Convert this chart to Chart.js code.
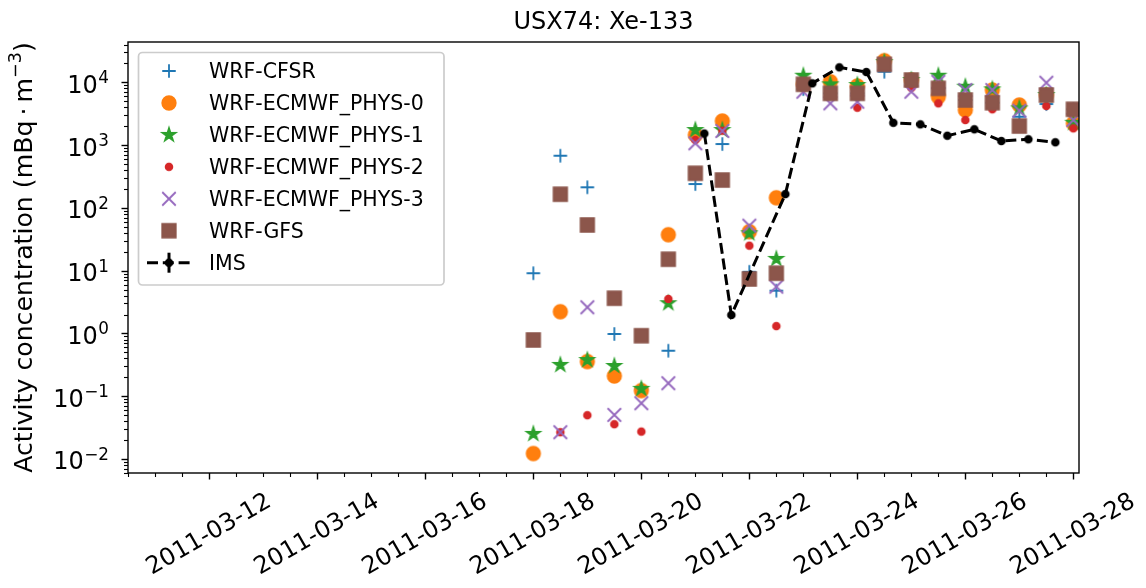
<!DOCTYPE html>
<html>
<head>
<meta charset="utf-8">
<script src="https://cdn.jsdelivr.net/npm/chart.js@4.4.1/dist/chart.umd.min.js"></script>
<style>
  html, body { margin: 0; padding: 0; background: #fff; }
</style>
</head>
<body>
<canvas id="chart" width="1146" height="588"></canvas>
<script>
// sampling times of the model runs (every 12 h)
const modelTimes = [
  '2011-03-18 00:00', '2011-03-18 12:00', '2011-03-19 00:00', '2011-03-19 12:00',
  '2011-03-20 00:00', '2011-03-20 12:00', '2011-03-21 00:00', '2011-03-21 12:00',
  '2011-03-22 00:00', '2011-03-22 12:00', '2011-03-23 00:00', '2011-03-23 12:00',
  '2011-03-24 00:00', '2011-03-24 12:00', '2011-03-25 00:00', '2011-03-25 12:00',
  '2011-03-26 00:00', '2011-03-26 12:00', '2011-03-27 00:00', '2011-03-27 12:00',
  '2011-03-28 00:00'
];
const wrfCfsr  = [9.1, 678, 213, 0.98, 0.13, 0.53, 240, 1040, 9.6, 4.8, 7800, 6680, 6680, 14750, 10880, 8020, 5230, 4730, 2830, 4510, 3720];
const ecmwf0   = [0.0122, 2.22, 0.356, 0.21, 0.123, 37.4, 1450, 2420, 41.8, 145, 9300, 10220, 8730, 22080, 10880, 5900, 3620, 7540, 4350, 6280, 2220];
const ecmwf1   = [0.0251, 0.315, 0.377, 0.303, 0.131, 3.03, 1740, 1740, 39.4, 15.4, 12740, 9290, 9060, 21000, 10880, 12740, 8510, 7740, 3855, 6280, 2270];
const ecmwf2   = [null, 0.0267, 0.0498, 0.0358, 0.0273, 3.54, 1206, 1700, 25.0, 1.31, 9300, 6680, 3940, 19360, 8200, 4630, 2510, 3720, 2015, 4200, 1850];
const ecmwf3   = [null, 0.0267, 2.61, 0.0504, 0.0774, 0.161, 1069, 1680, 52.1, 5.56, 7090, 4630, 4910, 19360, 7090, 10200, 7540, 7540, 3530, 9860, 2510];
const wrfGfs   = [0.787, 165, 53.4, 3.64, 0.92, 15.2, 356, 278, 7.38, 9.1, 9300, 6680, 6680, 19360, 10880, 8020, 5230, 4730, 2015, 6280, 3720];

// IMS measurements
const imsTimes = [
  '2011-03-21 04:00', '2011-03-21 16:00', '2011-03-22 16:00', '2011-03-23 04:00',
  '2011-03-23 16:00', '2011-03-24 04:00', '2011-03-24 16:00', '2011-03-25 04:00',
  '2011-03-25 16:00', '2011-03-26 04:00', '2011-03-26 16:00', '2011-03-27 04:00',
  '2011-03-27 16:00'
];
const imsValues = [1530, 1.97, 166, 9640, 17340, 14590, 2270, 2140, 1410, 1785, 1160, 1237, 1108];

const xTickLabels = ['2011-03-12', '2011-03-14', '2011-03-16', '2011-03-18', '2011-03-20',
                     '2011-03-22', '2011-03-24', '2011-03-26', '2011-03-28'];
const yTickValues = [1e-2, 1e-1, 1, 10, 100, 1000, 1e4];
const yTickExponents = ['\u22122', '\u22121', '0', '1', '2', '3', '4'];

// days since 2011-03-10 00:00 UTC
function toDay(s) {
  const [d, t] = s.split(' ');
  const [Y, M, D] = d.split('-').map(Number);
  const [h, m] = (t || '00:00').split(':').map(Number);
  return (Date.UTC(Y, M - 1, D, h, m) - Date.UTC(2011, 2, 10)) / 864e5;
}

function pts(times, vals) {
  return times.map((t, i) => ({x: toDay(t), y: vals[i]})).filter(p => p.y != null);
}

// matplotlib-like marker glyphs
function makeMarker(kind, color) {
  const s = 22, m = 11, r = 6.75;
  const c = document.createElement('canvas');
  c.width = s; c.height = s;
  const g = c.getContext('2d');
  g.strokeStyle = color; g.fillStyle = color; g.lineWidth = 1.8;
  g.beginPath();
  if (kind === 'plus') {
    g.moveTo(m - r, m); g.lineTo(m + r, m);
    g.moveTo(m, m - r); g.lineTo(m, m + r);
    g.stroke();
  } else if (kind === 'x') {
    g.moveTo(m - r, m - r); g.lineTo(m + r, m + r);
    g.moveTo(m - r, m + r); g.lineTo(m + r, m - r);
    g.stroke();
  } else if (kind === 'circle' || kind === 'point') {
    g.arc(m, m, kind === 'circle' ? r : r / 2, 0, Math.PI * 2);
    g.fill(); g.stroke();
  } else if (kind === 'square') {
    g.rect(m - r, m - r, 2 * r, 2 * r);
    g.fill(); g.stroke();
  } else if (kind === 'star') {
    for (let k = 0; k < 10; k++) {
      const rr = k % 2 ? r * 0.381966 : r;
      const a = -Math.PI / 2 + k * Math.PI / 5;
      const px = m + rr * Math.cos(a), py = m + rr * Math.sin(a);
      if (k === 0) g.moveTo(px, py); else g.lineTo(px, py);
    }
    g.closePath();
    g.fill(); g.stroke();
  }
  return c;
}

const FONT = 'DejaVu Sans';
Chart.defaults.font.family = FONT;
Chart.defaults.color = '#000';

// frame of the axes, matplotlib style ticks, power-of-ten labels, titles
const frameTicks = {
  id: 'frameTicks',
  afterDraw(chart) {
    const {ctx, chartArea: a, scales: {x, y}} = chart;
    ctx.save();
    ctx.strokeStyle = '#000';
    ctx.lineWidth = 1.4;
    ctx.strokeRect(a.left, a.top, a.right - a.left, a.bottom - a.top);
    const majorX = xTickLabels.map(d => toDay(d));
    for (let d = Math.ceil(x.min * 2) / 2; d <= x.max; d += 0.5) {
      const px = Math.round(x.getPixelForValue(d)) + 0.5;
      const major = majorX.some(v => Math.abs(v - d) < 1e-6);
      ctx.lineWidth = major ? 1.4 : 1.1;
      ctx.beginPath();
      ctx.moveTo(px, a.bottom);
      ctx.lineTo(px, a.bottom + (major ? 6.5 : 4));
      ctx.stroke();
    }
    for (let n = -3; n <= 5; n++) {
      for (let k = 1; k <= 9; k++) {
        const v = k * Math.pow(10, n);
        if (v < y.min || v > y.max) continue;
        const py = Math.round(y.getPixelForValue(v)) + 0.5;
        const major = k === 1;
        ctx.lineWidth = major ? 1.4 : 1.1;
        ctx.beginPath();
        ctx.moveTo(a.left, py);
        ctx.lineTo(a.left - (major ? 6.5 : 4), py);
        ctx.stroke();
      }
    }
    ctx.fillStyle = '#000';
    ctx.textBaseline = 'alphabetic';

    // y tick labels: 10 with a raised exponent
    const labRight = a.left - 19;
    yTickValues.forEach((v, i) => {
      const base = y.getPixelForValue(v) + 10.4;
      ctx.font = '16.8px ' + FONT;
      ctx.textAlign = 'right';
      const ew = ctx.measureText(yTickExponents[i]).width;
      ctx.fillText(yTickExponents[i], labRight, base - 9.5);
      ctx.font = '24px ' + FONT;
      ctx.fillText('10', labRight - ew - 0.5, base);
    });

    // title centred over the axes
    ctx.font = '24px ' + FONT;
    ctx.textAlign = 'center';
    ctx.fillText('USX74: Xe-133', (a.left + a.right) / 2, 28.5);

    // y axis title, rotated, with superscript
    const parts = [
      {t: 'Activity concentration (mBq\u2009\u00B7\u2009m', size: 25.2, dy: 0},
      {t: '\u22123', size: 17.6, dy: -10.5},
      {t: ')', size: 25.2, dy: 0}
    ];
    let total = 0;
    parts.forEach(p => { ctx.font = p.size + 'px ' + FONT; p.w = ctx.measureText(p.t).width; total += p.w; });
    ctx.translate(31.5, (a.top + a.bottom) / 2);
    ctx.rotate(-Math.PI / 2);
    ctx.textAlign = 'left';
    let cx = -total / 2;
    parts.forEach(p => {
      ctx.font = p.size + 'px ' + FONT;
      ctx.fillText(p.t, cx, p.dy);
      cx += p.w;
    });
    ctx.restore();
  }
};

// legend box in the upper left corner of the axes
const legendBox = {
  id: 'legendBox',
  afterDraw(chart) {
    const {ctx, chartArea: a} = chart;
    const bx = a.left + 10.5, by = a.top + 10.5, bw = 305.5, bh = 232.5, rad = 4;
    ctx.save();
    ctx.beginPath();
    ctx.moveTo(bx + rad, by);
    ctx.arcTo(bx + bw, by, bx + bw, by + bh, rad);
    ctx.arcTo(bx + bw, by + bh, bx, by + bh, rad);
    ctx.arcTo(bx, by + bh, bx, by, rad);
    ctx.arcTo(bx, by, bx + bw, by, rad);
    ctx.closePath();
    ctx.fillStyle = 'rgba(255,255,255,0.8)';
    ctx.fill();
    ctx.strokeStyle = '#cccccc';
    ctx.lineWidth = 1.7;
    ctx.stroke();
    ctx.font = '20.5px ' + FONT;
    ctx.textAlign = 'left';
    ctx.textBaseline = 'alphabetic';
    chart.data.datasets.forEach((ds, i) => {
      const cy = by + 18.5 + i * 31.95;
      const mx = bx + 30.5;
      if (ds.showLine) {
        ctx.strokeStyle = ds.borderColor;
        ctx.lineWidth = ds.borderWidth;
        ctx.setLineDash(ds.borderDash);
        ctx.beginPath();
        ctx.moveTo(mx - 22, cy); ctx.lineTo(mx + 22, cy);
        ctx.stroke();
        ctx.setLineDash([]);
        ctx.beginPath();
        ctx.moveTo(mx, cy - 10); ctx.lineTo(mx, cy + 10);
        ctx.stroke();
      }
      const img = ds.pointStyle;
      ctx.drawImage(img, mx - img.width / 2, cy - img.height / 2);
      ctx.fillStyle = '#000';
      ctx.fillText(ds.label, bx + 70.5, cy + 7.3);
    });
    ctx.restore();
  }
};

function modelSet(label, vals, kind, color, order) {
  return {
    label: label,
    data: pts(modelTimes, vals),
    pointStyle: makeMarker(kind, color),
    pointRadius: 7,
    showLine: false,
    order: order
  };
}

new Chart(document.getElementById('chart'), {
  type: 'scatter',
  data: {
    datasets: [
      modelSet('WRF-CFSR', wrfCfsr, 'plus', '#1f77b4', 6),
      modelSet('WRF-ECMWF_PHYS-0', ecmwf0, 'circle', '#ff7f0e', 5),
      modelSet('WRF-ECMWF_PHYS-1', ecmwf1, 'star', '#2ca02c', 4),
      modelSet('WRF-ECMWF_PHYS-2', ecmwf2, 'point', '#d62728', 3),
      modelSet('WRF-ECMWF_PHYS-3', ecmwf3, 'x', '#9467bd', 2),
      modelSet('WRF-GFS', wrfGfs, 'square', '#8c564b', 1),
      {
        label: 'IMS',
        data: pts(imsTimes, imsValues),
        showLine: true,
        borderColor: '#000',
        borderWidth: 3,
        borderDash: [11, 4.8],
        tension: 0,
        fill: false,
        pointStyle: makeMarker('point', '#000'),
        pointRadius: 4,
        order: 0
      }
    ]
  },
  options: {
    responsive: false,
    animation: false,
    events: [],
    layout: { autoPadding: false, padding: { top: 42, right: 67, left: 0, bottom: 0 } },
    plugins: {
      legend: { display: false },
      tooltip: { enabled: false },
      title: { display: false }
    },
    scales: {
      x: {
        type: 'linear',
        min: toDay('2011-03-10 11:50'),
        max: toDay('2011-03-28 02:30'),
        grid: { display: false, drawTicks: false },
        border: { display: false },
        afterBuildTicks: s => { s.ticks = xTickLabels.map(d => ({value: toDay(d)})); },
        afterFit: s => { s.height = 115; },
        ticks: {
          callback: (v, i) => xTickLabels[i],
          autoSkip: false,
          minRotation: 30,
          maxRotation: 30,
          labelOffset: 60,
          padding: 14.5,
          font: { size: 24 }
        }
      },
      y: {
        type: 'logarithmic',
        min: 0.00598,
        max: 43900,
        grid: { display: false, drawTicks: false },
        border: { display: false },
        afterBuildTicks: s => { s.ticks = yTickValues.map(v => ({value: v})); },
        afterFit: s => { s.width = 128; },
        ticks: { display: false }
      }
    }
  },
  plugins: [frameTicks, legendBox]
});
</script>
</body>
</html>
